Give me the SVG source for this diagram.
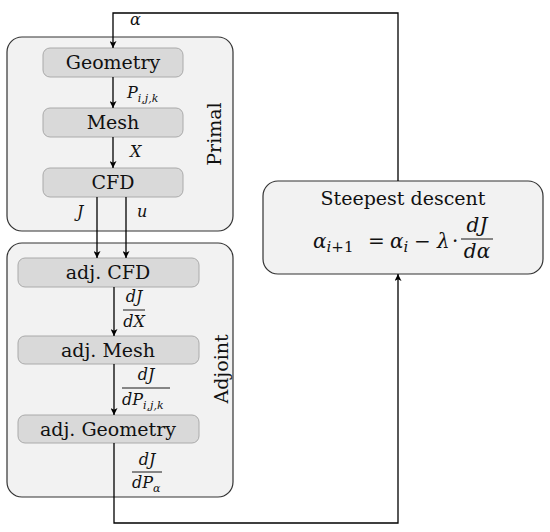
<svg xmlns="http://www.w3.org/2000/svg" width="550" height="532" viewBox="0 0 550 532">
<defs>
<marker id="ah" viewBox="0 0 10 10" refX="10" refY="5" markerWidth="7" markerHeight="7" markerUnits="userSpaceOnUse" orient="auto">
<path d="M0,0 L10,5 L0,10 L2.5,5 Z" fill="#000"/>
</marker>
<style>
text{font-family:"DejaVu Serif","Liberation Serif",serif}
.outer{fill:#f2f2f2;stroke:#333;stroke-width:1.2}
.inner{fill:#d9d9d9;stroke:#aaa;stroke-width:1}
.t{font-size:19px;fill:#111;text-anchor:middle}
.m{font-style:italic;font-size:16px;fill:#111}
.up{font-style:normal}
.s{font-size:11px}
.c{text-anchor:middle}
.ln{stroke:#000;stroke-width:1.3;fill:none}
.fl{stroke:#000;stroke-width:0.9}
</style>
</defs>
<rect width="550" height="532" fill="#fff"/>
<g>
<g id="primal">
<rect class="outer" x="7" y="37" width="226" height="194" rx="15"/>
<text class="t" transform="translate(221,134) rotate(-90)">Primal</text>
</g>
<g id="adjoint">
<rect class="outer" x="7" y="243" width="226" height="254" rx="15"/>
<text class="t" transform="translate(228,369) rotate(-90)">Adjoint</text>
</g>
<g id="geometry"><rect class="inner" x="43" y="48" width="140" height="29" rx="7"/><text class="t" x="113" y="69">Geometry</text></g>
<g id="mesh"><rect class="inner" x="43" y="108" width="140" height="29" rx="7"/><text class="t" x="113" y="129">Mesh</text></g>
<g id="cfd"><rect class="inner" x="43" y="168" width="140" height="29" rx="7"/><text class="t" x="113" y="189">CFD</text></g>
<g id="adjcfd"><rect class="inner" x="18" y="258" width="181" height="29" rx="7"/><text class="t" x="108" y="279">adj. CFD</text></g>
<g id="adjmesh"><rect class="inner" x="18" y="336" width="181" height="28" rx="7"/><text class="t" x="108" y="357">adj. Mesh</text></g>
<g id="adjgeometry"><rect class="inner" x="18" y="415" width="181" height="28" rx="7"/><text class="t" x="108" y="436">adj. Geometry</text></g>
<g id="steepest">
<rect class="outer" x="263" y="181" width="280" height="93" rx="15"/>
<text class="t" x="403" y="205">Steepest descent</text>
<text class="m" x="313" y="248" style="font-size:20px">α<tspan style="font-size:15px" dy="4">i</tspan><tspan class="up" style="font-size:15px">+1</tspan></text>
<text class="m up" x="368" y="248" style="font-size:20px">=</text>
<text class="m" x="390" y="248" style="font-size:20px">α<tspan style="font-size:15px" dy="4">i</tspan></text>
<text class="m up" x="414" y="248" style="font-size:20px">−</text>
<text class="m" x="437" y="248" style="font-size:20px">λ</text>
<text class="m up" x="452" y="248" style="font-size:20px">·</text>
<text class="m c" x="477" y="232" style="font-size:20px">dJ</text>
<line class="fl" x1="461" y1="239" x2="493" y2="239"/>
<text class="m c" x="477" y="258" style="font-size:20px">dα</text>
</g>
<g id="connectors">
<path class="ln" d="M398,181 V13 H113 V48" marker-end="url(#ah)"/>
<line class="ln" x1="113" y1="77" x2="113" y2="108" marker-end="url(#ah)"/>
<line class="ln" x1="113" y1="137" x2="113" y2="168" marker-end="url(#ah)"/>
<line class="ln" x1="97" y1="197" x2="97" y2="258" marker-end="url(#ah)"/>
<line class="ln" x1="126" y1="197" x2="126" y2="258" marker-end="url(#ah)"/>
<line class="ln" x1="114" y1="287" x2="114" y2="336" marker-end="url(#ah)"/>
<line class="ln" x1="114" y1="364" x2="114" y2="415" marker-end="url(#ah)"/>
<path class="ln" d="M114,443 V523 H398 V274" marker-end="url(#ah)"/>
</g>
<g id="labels">
<text class="m" x="130" y="25">α</text>
<text class="m" x="127" y="98">P<tspan class="s" dy="4">i,j,k</tspan></text>
<text class="m" x="130" y="157">X</text>
<text class="m" x="77" y="217">J</text>
<text class="m" x="137" y="217">u</text>
<text class="m c" x="134" y="302">dJ</text>
<line class="fl" x1="123" y1="310" x2="145" y2="310"/>
<text class="m c" x="134" y="327">dX</text>
<text class="m c" x="146" y="380">dJ</text>
<line class="fl" x1="122" y1="388" x2="170" y2="388"/>
<text class="m" x="122" y="405">dP<tspan class="s" dy="4">i,j,k</tspan></text>
<text class="m c" x="147" y="465">dJ</text>
<line class="fl" x1="132" y1="472" x2="162" y2="472"/>
<text class="m" x="132" y="488">dP<tspan class="s" dy="4">α</tspan></text>
</g>
</g>
</svg>
